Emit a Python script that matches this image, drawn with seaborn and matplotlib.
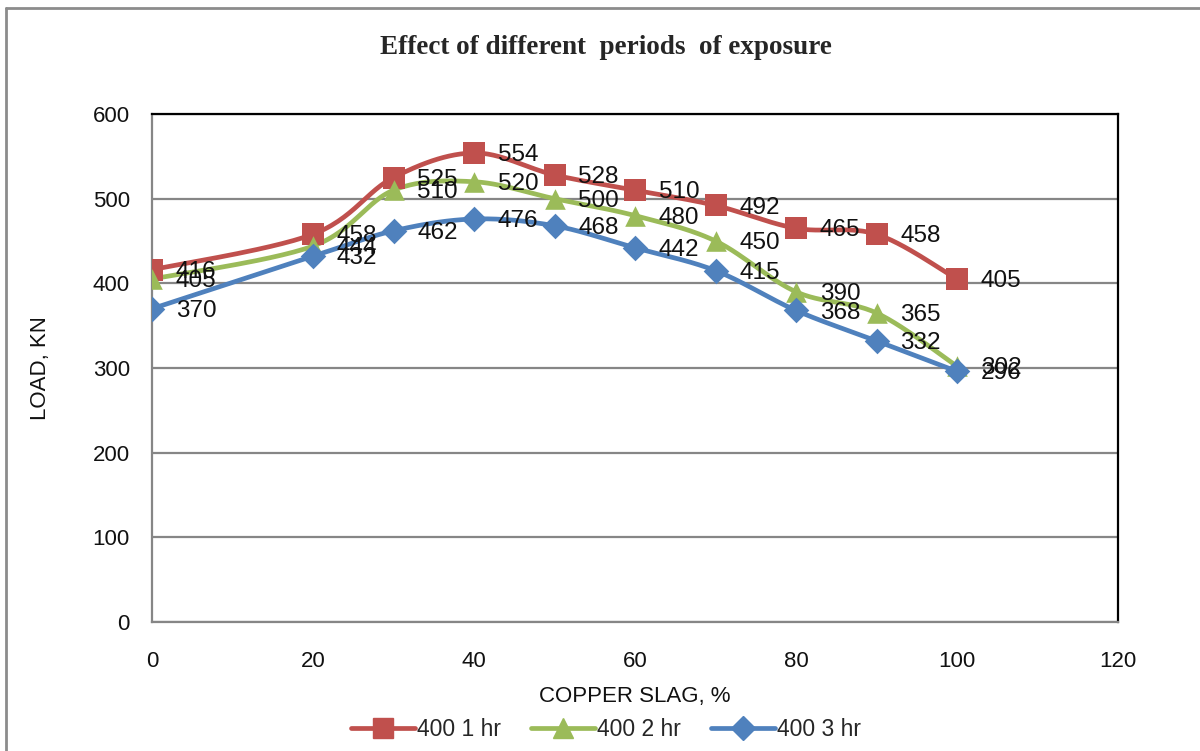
import numpy as np
import pandas as pd
import matplotlib
matplotlib.use('Agg')
import matplotlib.pyplot as plt
import seaborn as sns
from matplotlib.lines import Line2D

# chart data
copper_slag = [0, 20, 30, 40, 50, 60, 70, 80, 90, 100]
load_1hr = [416, 458, 525, 554, 528, 510, 492, 465, 458, 405]
load_2hr = [405, 444, 510, 520, 500, 480, 450, 390, 365, 302]
load_3hr = [370, 432, 462, 476, 468, 442, 415, 368, 332, 296]
series_names = ['400 1 hr', '400 2 hr', '400 3 hr']

colors = ['#C0504D', '#9BBB59', '#4F81BD']
markers = ['s', '^', 'D']
marker_sizes = [250, 220, 170]
legend_ms = [15, 14, 12]


def smooth(xs, ys, n=30):
    # Excel-like smoothed line (bezier through the points)
    pts = np.column_stack([xs, ys]).astype(float)
    out = [pts[0]]
    t = np.linspace(0, 1, n)[1:, None]
    for i in range(len(pts) - 1):
        p0 = pts[max(i - 1, 0)]
        p1 = pts[i]
        p2 = pts[i + 1]
        p3 = pts[min(i + 2, len(pts) - 1)]
        c1 = p1 + (p2 - p0) / 6
        c2 = p2 - (p3 - p1) / 6
        seg = (1 - t)**3 * p1 + 3 * (1 - t)**2 * t * c1 + 3 * (1 - t) * t**2 * c2 + t**3 * p2
        out.extend(seg)
    return np.array(out)


sns.set_style('white')
plt.rcParams['font.family'] = ['Liberation Sans', 'DejaVu Sans']

fig = plt.figure(figsize=(12, 7.51), dpi=100)
ax = fig.add_axes([152 / 1200, 1 - 622 / 751, (1118 - 152) / 1200, (622 - 114) / 751])

all_series = [load_1hr, load_2hr, load_3hr]
for name, vals, col, mk, ms in zip(series_names, all_series, colors, markers, marker_sizes):
    curve = smooth(copper_slag, vals)
    df_curve = pd.DataFrame({'x': curve[:, 0], 'y': curve[:, 1]})
    sns.lineplot(data=df_curve, x='x', y='y', sort=False, estimator=None,
                 color=col, linewidth=3.4, ax=ax, zorder=3)
    df_pts = pd.DataFrame({'x': copper_slag, 'y': vals})
    sns.scatterplot(data=df_pts, x='x', y='y', marker=mk, s=ms, color=col,
                    edgecolor=col, linewidth=0, ax=ax, zorder=4)

for vals in all_series:
    for xv, yv in zip(copper_slag, vals):
        ax.annotate(str(yv), (xv, yv), xytext=(17, -1.5), textcoords='offset points',
                    ha='left', va='center', fontsize=17.5, color='#111111', zorder=5)

ax.set_xlim(0, 120)
ax.set_ylim(0, 600)
ax.set_xticks(range(0, 121, 20))
ax.set_yticks(range(0, 601, 100))
ax.yaxis.grid(True, color='#868686', linewidth=1.6)
ax.xaxis.grid(False)
ax.tick_params(axis='both', labelsize=16, length=6, width=1.5, color='#868686',
               direction='out', labelcolor='#111111')
ax.tick_params(axis='x', pad=15)
ax.tick_params(axis='y', pad=10)
ax.set_xlabel('COPPER SLAG, %', fontsize=16, labelpad=10, color='#111111')
ax.set_ylabel('LOAD, KN', fontsize=16, labelpad=30, color='#111111')
for side in ['left', 'bottom']:
    ax.spines[side].set_color('#868686')
    ax.spines[side].set_linewidth(1.6)
for side in ['top', 'right']:
    ax.spines[side].set_color('black')
    ax.spines[side].set_linewidth(1.6)

fig.text(0.505, 1 - 47 / 751, 'Effect of different  periods  of exposure',
         ha='center', va='center', fontsize=19.5, fontweight='bold',
         family=['Liberation Serif', 'DejaVu Serif'])

handles = [Line2D([], [], color=c, marker=m, markersize=s, linewidth=3.4)
           for c, m, s in zip(colors, markers, legend_ms)]
fig.legend(handles, series_names, loc='center', bbox_to_anchor=(0.505, 1 - 730 / 751),
           ncol=3, frameon=False, fontsize=16.5, handlelength=2.8, handletextpad=0.1,
           columnspacing=1.3)

# outer chart border (top and left visible)
fig.add_artist(Line2D([6 / 1200, 6 / 1200], [0, 1 - 8 / 751], transform=fig.transFigure,
                      color='#8c8c8c', linewidth=2))
fig.add_artist(Line2D([6 / 1200, 1], [1 - 8 / 751, 1 - 8 / 751], transform=fig.transFigure,
                      color='#8c8c8c', linewidth=2))

fig.savefig('out.png', dpi=100)
